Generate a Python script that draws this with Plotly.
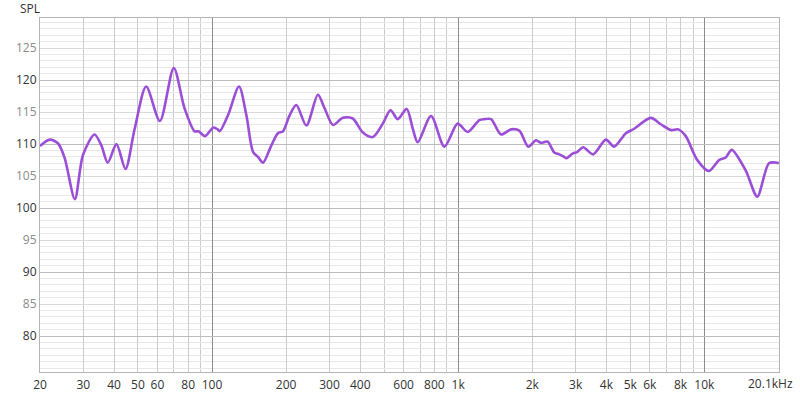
import plotly.graph_objects as go
import math

freq_hz = [20, 21.9, 23.7, 25.2, 27.7, 29.9, 33.3, 35.5, 37.7, 40.9, 44.5, 48.5, 54.0, 61.4, 69.9,
           77.3, 84.9, 88.1, 93.7, 101.3, 105.5, 107.5, 116.1, 128.7, 137.9, 146.7, 153.7, 161.1,
           174.2, 185.2, 194.1, 206.6, 220, 241.6, 269.2, 286.6, 309.8, 340, 373, 410, 450, 494,
           531, 568, 618, 654, 685, 776, 879, 995, 1093, 1219, 1277, 1360, 1493, 1639, 1772, 1926,
           2070, 2170, 2307, 2456, 2573, 2696, 2755, 2914, 3053, 3220, 3536, 3982, 4303, 4800,
           5187, 6061, 6656, 7307, 7844, 8406, 9368, 10450, 11474, 12214, 12918, 14722, 16408,
           18304, 19776, 20100]
spl_db = [109.7, 110.7, 110.1, 107.8, 101.4, 108.3, 111.5, 109.8, 107.1, 110.0, 106.1, 112.4, 119.0,
          113.6, 121.9, 115.6, 112.0, 112.0, 111.25, 112.6, 112.3, 112.0, 114.5, 119.0, 114.5, 108.8,
          108.0, 107.1, 109.8, 111.7, 112.0, 114.5, 116.1, 112.9, 117.7, 115.6, 113.0, 114.1, 114.0,
          111.8, 111.1, 113.2, 115.3, 113.9, 115.5, 112.4, 110.3, 114.4, 109.6, 113.2, 111.9, 113.75,
          113.9, 113.9, 111.5, 112.3, 112.1, 109.6, 110.6, 110.2, 110.4, 108.7, 108.4, 108.0, 107.8,
          108.5, 108.8, 109.5, 108.4, 110.7, 109.6, 111.7, 112.4, 114.1, 113.1, 112.2, 112.3, 111.25,
          107.5, 105.8, 107.5, 107.9, 109.1, 105.9, 101.8, 107.0, 107.1, 107.0]

x_tick_vals = [20, 30, 40, 50, 60, 80, 100, 200, 300, 400, 600, 800, 1000, 2000, 3000, 4000,
               5000, 6000, 8000, 10000]
x_tick_text = ["20", "30", "40", "50", "60", "80", "100", "200", "300", "400", "600", "800", "1k",
               "2k", "3k", "4k", "5k", "6k", "8k", "10k"]
x_end_label = "20.1kHz"
x_extra_grid = [70, 90, 500, 700, 900, 7000, 9000]
x_decade_grid = [100, 1000, 10000]

y_tick_vals = [80, 85, 90, 95, 100, 105, 110, 115, 120, 125]
y_major_vals = [80, 90, 100, 110, 120]

y_text = [str(v) if v % 10 == 0 else '<span style="color:#8a8a8a">%d</span>' % v for v in y_tick_vals]

fig = go.Figure()
fig.add_trace(go.Scatter(x=freq_hz, y=spl_db, mode="lines",
                         line=dict(color="#9b4fd6", width=2.6, shape="spline", smoothing=0.8),
                         hoverinfo="skip", showlegend=False))
fig.add_trace(go.Scatter(x=[20], y=[100], xaxis="x2", yaxis="y2", mode="markers", marker=dict(opacity=0),
                         showlegend=False, hoverinfo="skip"))

xr = [math.log10(20), math.log10(20110)]
yr = [74.4, 129.7]
font = dict(family="Open Sans, Noto Sans, sans-serif", size=12, color="#333333")

fig.update_layout(
    width=800, height=403,
    margin=dict(l=40, r=21, t=18, b=31),
    paper_bgcolor="white", plot_bgcolor="white",
    font=font,
    xaxis=dict(type="log", range=xr, tickmode="array", tickvals=x_tick_vals, ticktext=x_tick_text,
               showgrid=True, gridcolor="#cccccc", gridwidth=1, ticks="", zeroline=False,
               showline=True, linecolor="#b5b5b5", mirror=True,
               automargin=False, ticklabelstandoff=2,
               minor=dict(tickmode="array", tickvals=x_extra_grid, showgrid=True, gridcolor="#cccccc", ticks=""),
               tickfont=dict(size=12, color="#333333")),
    yaxis=dict(range=yr, tickmode="array", tickvals=y_tick_vals, ticktext=y_text,
               showgrid=True, gridcolor="#dadada", ticks="", zeroline=False, automargin=False,
               showline=True, linecolor="#b5b5b5", mirror=True,
               minor=dict(dtick=1, showgrid=True, gridcolor="#e8e8e8", ticks=""),
               tickfont=dict(size=12, color="#333333")),
    xaxis2=dict(type="log", range=xr, overlaying="x", tickmode="array", tickvals=x_decade_grid,
                showticklabels=False, showgrid=True, gridcolor="#8c8c8c", zeroline=False, ticks=""),
    yaxis2=dict(range=yr, overlaying="y", tickmode="array", tickvals=y_major_vals,
                showticklabels=False, showgrid=True, gridcolor="#bdbdbd", zeroline=False, ticks=""),
)
fig.add_annotation(text="SPL", xref="paper", yref="paper", x=0, y=1, xanchor="left", yanchor="bottom",
                   xshift=-22, yshift=-1, showarrow=False, font=dict(size=12, color="#333333"))
fig.add_annotation(text=x_end_label, xref="paper", yref="paper", x=1, y=0, xanchor="right", yanchor="top",
                   xshift=16, yshift=-1, showarrow=False, font=dict(size=12, color="#333333"))

fig.write_html("out.html")
